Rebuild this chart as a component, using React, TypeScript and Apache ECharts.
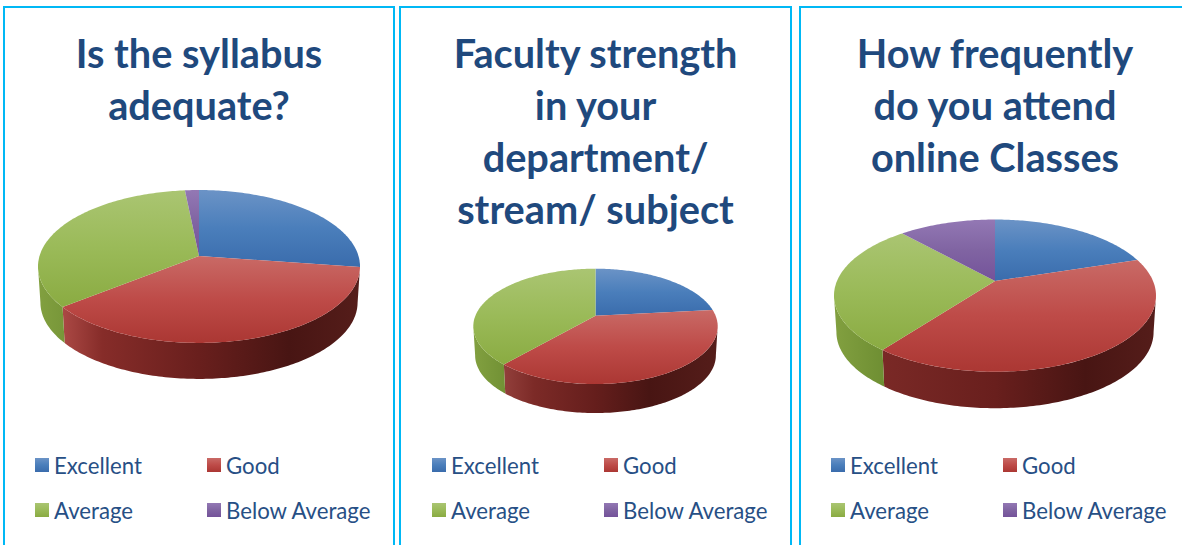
import React, { useEffect, useRef } from "react";
import * as echarts from "echarts";

const categories = ["Excellent", "Good", "Average", "Below Average"];
const syllabusValues = [27.3, 37, 34.1, 1.6];
const facultyValues = [23.3, 38.1, 38.6, 0];
const attendanceValues = [20.1, 40.2, 28, 11.7];

const titleSyllabus = "Is the syllabus\nadequate?";
const titleFaculty = "Faculty strength\nin your\ndepartment/\nstream/ subject";
const titleAttendance = "How frequently\ndo you attend\nonline Classes";

const TITLE_COLOR = "#1f497d";
const LEGEND_COLOR = "#274f85";
const BORDER_COLOR = "#00b8f5";
const FONT = "Lato, Carlito, 'Open Sans', sans-serif";

const topStops = [
  ["#6b93c6", "#4a7ebb", "#3a6cac"],
  ["#c96a66", "#be4b48", "#ab3733"],
  ["#aac572", "#9aba58", "#8aab42"],
  ["#9378b4", "#8064a2", "#74529a"],
];

const blueWall = [[0, "#2c4d78"], [1, "#2c4d78"]];
const greenWall = [[0, "#82a040"], [0.15, "#6f8f33"], [1, "#5c7a2a"]];
const purpleWall = [[0, "#5a3f78"], [1, "#5a3f78"]];
const redWallSyllabus = [[0, "#c0524e"], [0.07, "#ad4a46"], [0.2, "#862c29"], [0.5, "#691f1d"], [0.78, "#481513"], [1, "#551d1a"]];
const redWallFaculty = [[0, "#c0524e"], [0.12, "#93403c"], [0.25, "#7c2a27"], [0.5, "#651e1c"], [0.72, "#481513"], [1, "#551d1a"]];
const redWallAttendance = [[0, "#8a2f2c"], [0.15, "#7a2926"], [0.5, "#691f1d"], [0.78, "#481513"], [1, "#551d1a"]];

type Panel = {
  title: string;
  values: number[];
  cx: number;
  apexY: number;
  rx: number;
  ry: number;
  k: number;
  depth: number;
  shrink: number;
  titleX: number;
  legendX: [number, number];
  redWall: any[];
};

const panels: Panel[] = [
  { title: titleSyllabus, values: syllabusValues, cx: 199, apexY: 256, rx: 161, ry: 75, k: 0.137, depth: 36, shrink: 0.985, titleX: 199, legendX: [35, 207], redWall: redWallSyllabus },
  { title: titleFaculty, values: facultyValues, cx: 595.5, apexY: 315.7, rx: 122.2, ry: 55.7, k: 0.185, depth: 29, shrink: 0.985, titleX: 595.5, legendX: [432, 604], redWall: redWallFaculty },
  { title: titleAttendance, values: attendanceValues, cx: 995, apexY: 281, rx: 161, ry: 73.3, k: 0.192, depth: 36.5, shrink: 0.985, titleX: 995, legendX: [831, 1003], redWall: redWallAttendance },
];

const legendRows = [454, 499];

function ring(p: Panel, a0: number, a1: number) {
  const rxp = p.rx * Math.sqrt(1 - p.k * p.k);
  const n = Math.max(2, Math.ceil(Math.abs(a1 - a0)));
  const pts: number[][] = [];
  for (let i = 0; i <= n; i++) {
    const t = ((a0 + ((a1 - a0) * i) / n) * Math.PI) / 180;
    const u = Math.sin(t);
    const v = -Math.cos(t);
    const w = 1 - p.k * v;
    pts.push([p.cx + (rxp * u) / w, p.apexY + (p.ry * v) / w]);
  }
  return pts;
}

function sliceSeries(p: Panel, idx: number) {
  const total = p.values.reduce((a, b) => a + b, 0);
  const before = p.values.slice(0, idx).reduce((a, b) => a + b, 0);
  const stops = [blueWall, p.redWall, greenWall, purpleWall][idx];
  const wallFill = new echarts.graphic.LinearGradient(
    p.cx - p.rx, 0, p.cx + p.rx, 0,
    stops.map(([offset, color]: any[]) => ({ offset, color })),
    true
  );
  const s = topStops[idx];
  const fill = {
    type: "linear", x: 0, y: 0, x2: 0, y2: 1,
    colorStops: [{ offset: 0, color: s[0] }, { offset: 0.5, color: s[1] }, { offset: 1, color: s[2] }],
  };
  const extreme = (Math.acos(-p.k) * 180) / Math.PI;
  return {
    type: "custom",
    name: categories[idx],
    coordinateSystem: "none",
    silent: true,
    itemStyle: { color: fill },
    data: [[p.values[idx]]],
    renderItem: (_params: any, api: any) => {
      const value = api.value(0) as number;
      if (!value) return { type: "group", children: [] };
      const a0 = (before / total) * 360;
      const a1 = ((before + value) / total) * 360;
      const children: any[] = [
        {
          type: "polygon",
          z2: 10,
          shape: { points: [[p.cx, p.apexY], ...ring(p, a0, a1)] },
          style: { fill },
        },
      ];
      const w0 = Math.max(a0, extreme);
      const w1 = Math.min(a1, 360 - extreme);
      if (w1 > w0) {
        const rim = ring(p, w0, w1);
        const lower = rim.map(([x, y]) => [p.cx + (x - p.cx) * p.shrink, y + p.depth]).reverse();
        children.push({
          type: "polygon",
          z2: 1,
          shape: { points: [...rim, ...lower] },
          style: { fill: wallFill },
        });
      }
      return { type: "group", children };
    },
  };
}

export default function App() {
  const ref = useRef<HTMLDivElement>(null);
  useEffect(() => {
    const chart = echarts.init(ref.current!, undefined, { renderer: "svg" });
    const legends: any[] = [];
    panels.forEach((p) => {
      categories.forEach((name, i) => {
        legends.push({
          data: [name],
          left: p.legendX[i % 2],
          top: legendRows[Math.floor(i / 2)],
          padding: 0,
          icon: "rect",
          itemWidth: 14,
          itemHeight: 14,
          selectedMode: false,
          textStyle: { color: LEGEND_COLOR, fontFamily: FONT, fontSize: 22.2, padding: [0, 0, 4, 0] },
        });
      });
    });
    chart.setOption({
      animation: false,
      backgroundColor: "#ffffff",
      title: panels.map((p) => ({
        text: p.title,
        left: p.titleX,
        top: 26,
        padding: 0,
        textAlign: "center",
        textStyle: { color: TITLE_COLOR, fontFamily: FONT, fontWeight: "bold", fontSize: 39.7, lineHeight: 52 },
      })),
      legend: legends,
      graphic: [
        { type: "rect", silent: true, shape: { x: 4, y: 7, width: 390, height: 560 }, style: { fill: "none", stroke: BORDER_COLOR, lineWidth: 2 } },
        { type: "rect", silent: true, shape: { x: 400, y: 7, width: 391, height: 560 }, style: { fill: "none", stroke: BORDER_COLOR, lineWidth: 2 } },
        { type: "rect", silent: true, shape: { x: 800, y: 7, width: 420, height: 560 }, style: { fill: "none", stroke: BORDER_COLOR, lineWidth: 2 } },
      ],
      series: panels.flatMap((p) => categories.map((_, i) => sliceSeries(p, i))),
    });
    return () => chart.dispose();
  }, []);
  return <div ref={ref} style={{ position: "fixed", left: 0, top: 0, width: 1182, height: 545 }} />;
}
